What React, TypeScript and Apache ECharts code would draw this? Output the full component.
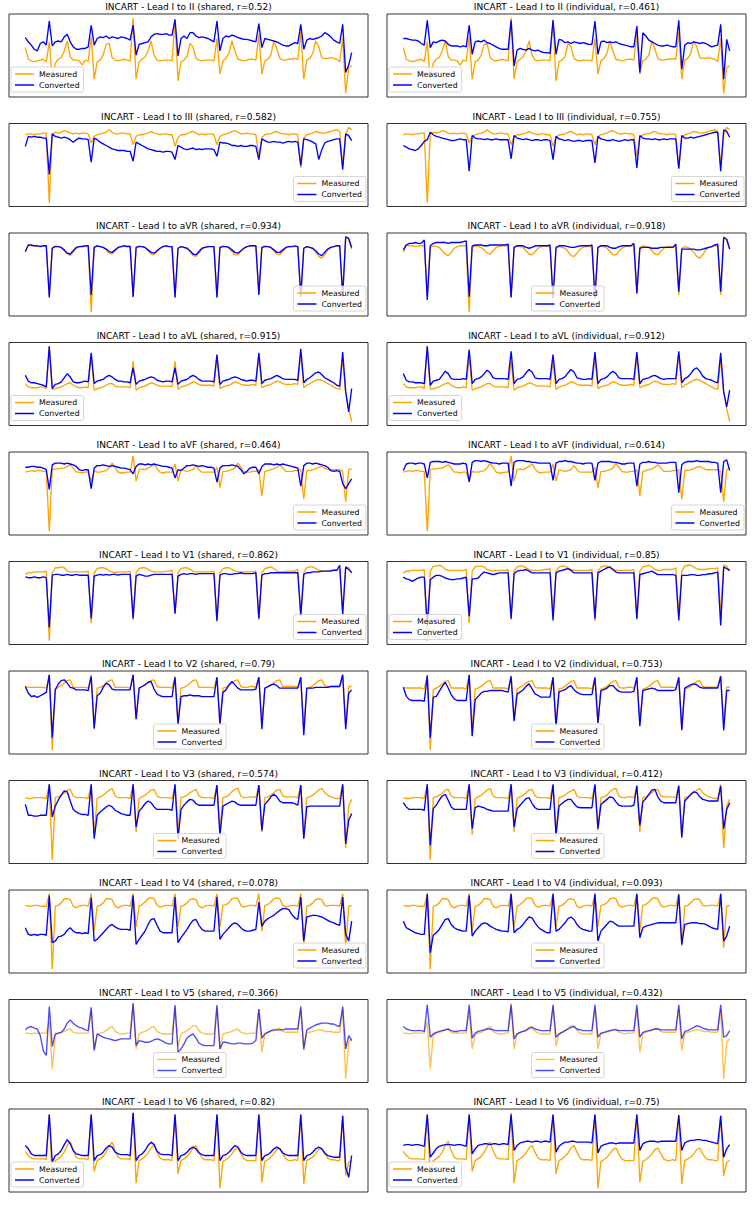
import React, { useEffect, useRef } from "react";
import * as echarts from "echarts";

// ---- labels ----
const leads = ["II", "III", "aVR", "aVL", "aVF", "V1", "V2", "V3", "V4", "V5", "V6"];
const rShared = ["0.52", "0.582", "0.934", "0.915", "0.464", "0.862", "0.79", "0.574", "0.078", "0.366", "0.82"];
const rIndividual = ["0.461", "0.755", "0.918", "0.912", "0.614", "0.85", "0.753", "0.412", "0.093", "0.432", "0.75"];
const legendShared = ["left", "right", "right", "left", "right", "right", "center", "center", "right", "center", "left"];
const legendIndividual = ["left", "right", "center", "left", "right", "left", "center", "center", "center", "center", "left"];

// ---- measured leads (same signal in both columns) ----
const mII = [59, 45, 43, 42, 43, 44, 45,
  42, 66, 21, 40, 45, 47, 55, 67, 48, 44, 44, 43, 38, 44,
  43, 72, 21, 42, 44, 50, 63, 64, 47, 44, 43, 44, 45, 44,
  43, 95, 21, 42, 45, 48, 55, 67, 50, 44, 43, 44, 44, 44,
  43, 93, 19, 42, 44, 48, 64, 60, 46, 44, 43, 44, 44, 44,
  43, 70, 27, 43, 46, 52, 67, 55, 45, 44, 43, 44, 45, 45,
  44, 75, 27, 43, 45, 50, 67, 58, 46, 44, 44, 45, 45, 46,
  45, 78, 21, 44, 46, 52, 67, 60, 47, 46, 46, 47, 46, 45,
  42, 70, 4, 35, 37];
const mIII = [86, 87, 87, 86, 87, 87, 88,
  88, 4, 87, 89, 88, 89, 91, 90, 88, 87, 88, 87, 88, 88,
  87, 76, 84, 86, 87, 88, 89, 92, 89, 87, 87, 88, 88, 87,
  87, 74, 84, 86, 86, 87, 88, 90, 88, 87, 86, 87, 87, 86,
  86, 72, 83, 86, 86, 87, 89, 90, 88, 86, 87, 86, 87, 87,
  86, 74, 84, 86, 87, 88, 90, 91, 89, 87, 87, 88, 87, 87,
  86, 60, 83, 86, 87, 87, 89, 90, 88, 87, 87, 86, 87, 87,
  86, 46, 82, 86, 87, 88, 90, 89, 88, 88, 89, 90, 91, 92,
  90, 48, 86, 95, 92];
const mAVR = [76, 85, 84, 84, 83, 84, 84,
  84, 24, 82, 84, 83, 82, 78, 74, 72, 76, 81, 83, 84, 84,
  84, 3, 82, 84, 83, 82, 79, 75, 74, 78, 82, 83, 84, 84,
  84, 21, 82, 84, 83, 82, 78, 74, 73, 77, 81, 83, 84, 83,
  83, 21, 81, 83, 82, 81, 77, 72, 71, 75, 80, 82, 83, 83,
  83, 21, 82, 84, 83, 81, 77, 73, 73, 77, 81, 83, 84, 84,
  84, 26, 82, 84, 83, 82, 78, 74, 73, 77, 81, 83, 83, 83,
  83, 24, 81, 83, 82, 80, 76, 71, 69, 73, 79, 82, 83, 84,
  84, 24, 95, 92, 80];
const mAVL = [50, 46, 45, 45, 45, 46, 46,
  44, 95, 43, 44, 45, 46, 48, 50, 51, 48, 46, 45, 45, 46,
  45, 84, 42, 44, 45, 46, 48, 50, 50, 47, 46, 46, 46, 46,
  45, 77, 42, 45, 46, 47, 49, 51, 50, 48, 47, 47, 47, 47,
  46, 77, 43, 46, 47, 48, 50, 52, 51, 49, 48, 48, 48, 48,
  47, 82, 44, 46, 47, 48, 50, 52, 51, 49, 48, 48, 48, 49,
  48, 84, 45, 47, 48, 49, 51, 53, 52, 50, 49, 49, 49, 50,
  49, 86, 45, 48, 50, 52, 54, 55, 54, 52, 50, 48, 46, 44,
  43, 80, 40, 20, 4];
const mAVF = [77, 78, 79, 78, 79, 79, 78,
  78, 5, 80, 81, 81, 82, 82, 84, 86, 82, 77, 77, 76, 77,
  77, 66, 78, 77, 77, 78, 79, 82, 88, 83, 77, 76, 76, 77,
  77, 97, 66, 80, 81, 80, 82, 84, 87, 81, 77, 76, 77, 77,
  77, 87, 66, 80, 79, 78, 79, 80, 85, 80, 77, 77, 77, 77,
  77, 83, 58, 78, 78, 79, 80, 82, 88, 83, 78, 77, 77, 78,
  78, 80, 48, 78, 79, 80, 81, 83, 86, 82, 78, 78, 78, 79,
  79, 80, 44, 79, 79, 80, 81, 83, 84, 82, 80, 80, 80, 80,
  80, 78, 41, 80, 81];
const mV1 = [84, 86, 86, 87, 87, 87, 87,
  88, 4, 86, 92, 92, 93, 92, 88, 87, 87, 87, 87, 87, 87,
  88, 25, 86, 91, 92, 92, 91, 88, 87, 86, 87, 87, 87, 87,
  88, 29, 86, 91, 92, 92, 90, 88, 87, 87, 87, 87, 88, 88,
  89, 36, 86, 91, 92, 92, 90, 88, 87, 87, 87, 87, 87, 87,
  88, 27, 86, 91, 92, 92, 90, 88, 87, 87, 87, 87, 87, 87,
  88, 29, 86, 91, 92, 93, 91, 88, 87, 87, 88, 88, 88, 88,
  90, 34, 86, 92, 93, 93, 91, 89, 88, 88, 88, 89, 89, 89,
  90, 36, 93, 92, 86];
const mV2 = [81, 80, 80, 80, 80, 80, 80,
  79, 95, 5, 78, 80, 82, 85, 88, 89, 80, 80, 80, 80, 80,
  79, 95, 30, 79, 80, 82, 85, 88, 89, 80, 80, 80, 80, 80,
  79, 95, 42, 79, 81, 83, 86, 88, 89, 81, 80, 80, 80, 80,
  79, 93, 36, 79, 80, 82, 85, 88, 89, 80, 80, 80, 80, 80,
  79, 92, 38, 79, 80, 82, 85, 88, 89, 81, 80, 80, 81, 81,
  80, 92, 40, 79, 80, 82, 85, 88, 89, 81, 81, 81, 81, 81,
  80, 92, 32, 79, 80, 82, 85, 88, 89, 82, 81, 81, 81, 81,
  81, 95, 36, 81, 81];
const mV3 = [79, 78, 78, 79, 79, 79, 79,
  78, 95, 5, 79, 80, 82, 84, 88, 89, 81, 79, 79, 79, 79,
  78, 95, 35, 78, 80, 82, 85, 88, 90, 81, 79, 79, 79, 79,
  78, 95, 38, 78, 80, 82, 85, 88, 89, 81, 79, 79, 79, 79,
  78, 94, 38, 79, 80, 82, 85, 87, 89, 81, 79, 79, 79, 79,
  78, 94, 40, 79, 80, 82, 86, 89, 90, 81, 79, 79, 80, 80,
  79, 94, 38, 79, 80, 82, 85, 88, 89, 81, 80, 80, 80, 80,
  79, 94, 31, 79, 80, 82, 85, 88, 90, 85, 82, 80, 79, 78,
  78, 95, 19, 69, 77];
const mV4 = [81, 80, 80, 81, 81, 80, 80,
  80, 95, 4, 80, 81, 84, 89, 89, 88, 80, 78, 80, 81, 81,
  80, 95, 50, 80, 81, 84, 89, 89, 88, 80, 78, 80, 81, 81,
  80, 95, 55, 80, 82, 85, 89, 90, 89, 81, 79, 80, 81, 81,
  80, 95, 55, 80, 81, 84, 88, 89, 88, 80, 78, 80, 81, 81,
  80, 95, 55, 81, 82, 84, 89, 90, 89, 81, 79, 80, 81, 81,
  80, 95, 50, 81, 82, 85, 89, 90, 89, 81, 79, 80, 81, 81,
  80, 95, 32, 80, 81, 84, 88, 89, 88, 81, 80, 81, 81, 81,
  80, 95, 30, 80, 81];
const mV5 = [61, 61, 60, 61, 61, 61, 61,
  61, 75, 18, 58, 61, 62, 63, 65, 66, 62, 61, 61, 61, 61,
  61, 88, 42, 59, 61, 62, 64, 67, 69, 63, 61, 60, 60, 61,
  61, 97, 42, 60, 62, 63, 65, 68, 69, 63, 61, 60, 60, 60,
  60, 92, 45, 60, 62, 64, 67, 70, 70, 64, 61, 60, 60, 60,
  60, 92, 42, 60, 61, 62, 63, 65, 66, 62, 61, 60, 61, 61,
  61, 90, 38, 60, 62, 63, 64, 66, 67, 63, 62, 62, 62, 62,
  62, 90, 40, 61, 62, 63, 64, 65, 65, 63, 63, 63, 62, 62,
  62, 90, 6, 50, 54];
const mV6 = [49, 44, 41, 40, 40, 40, 40,
  39, 93, 15, 38, 40, 43, 48, 56, 61, 50, 42, 40, 40, 40,
  39, 93, 25, 38, 40, 43, 48, 55, 60, 50, 42, 40, 40, 40,
  39, 95, 11, 38, 40, 43, 47, 53, 56, 48, 41, 39, 39, 39,
  38, 93, 22, 38, 40, 43, 47, 53, 56, 48, 41, 39, 39, 39,
  38, 93, 5, 37, 39, 42, 46, 51, 53, 46, 40, 38, 38, 38,
  38, 93, 12, 37, 39, 42, 46, 51, 53, 46, 40, 38, 38, 39,
  38, 93, 10, 38, 40, 42, 46, 51, 53, 46, 41, 39, 39, 38,
  38, 92, 20, 36, 38];

// ---- converted from Lead I, shared model ----
const sII = [71, 66, 62, 57, 55, 64, 66,
  62, 91, 61, 66, 67, 66, 72, 75, 66, 60, 57, 57, 58, 58,
  60, 86, 62, 70, 72, 71, 73, 70, 72, 71, 70, 72, 71, 70,
  68, 86, 50, 63, 64, 65, 66, 72, 75, 76, 75, 75, 76, 74,
  74, 93, 49, 70, 73, 70, 77, 77, 73, 71, 72, 71, 70, 68,
  66, 91, 55, 70, 73, 72, 74, 73, 71, 70, 69, 69, 68, 67,
  66, 88, 59, 70, 69, 68, 67, 66, 64, 62, 61, 61, 63, 65,
  64, 87, 57, 68, 70, 69, 70, 71, 73, 77, 75, 72, 68, 66,
  64, 87, 29, 38, 53];
const sIII = [72, 84, 83, 84, 83, 83, 82,
  82, 38, 87, 84, 83, 82, 83, 82, 80, 77, 80, 82, 81, 81,
  80, 53, 82, 80, 77, 75, 73, 71, 69, 68, 67, 67, 67, 66,
  66, 54, 77, 75, 73, 71, 69, 68, 67, 66, 66, 65, 66, 66,
  65, 56, 73, 71, 69, 68, 69, 70, 68, 69, 68, 69, 69, 69,
  68, 60, 77, 76, 76, 75, 73, 73, 72, 73, 72, 72, 73, 73,
  72, 56, 81, 79, 77, 77, 78, 77, 77, 76, 77, 78, 77, 78,
  77, 49, 81, 80, 79, 77, 75, 56, 68, 76, 78, 79, 80, 81,
  81, 44, 87, 85, 79];
const sAVR = [77, 85, 85, 84, 84, 83, 84,
  84, 21, 81, 83, 83, 82, 79, 75, 74, 78, 82, 83, 83, 84,
  84, 24, 82, 84, 83, 82, 80, 77, 76, 79, 82, 83, 84, 83,
  83, 22, 82, 83, 83, 82, 79, 76, 75, 78, 81, 83, 84, 83,
  83, 21, 81, 83, 82, 81, 78, 74, 73, 77, 81, 82, 83, 83,
  83, 21, 82, 83, 83, 82, 79, 76, 75, 78, 81, 83, 84, 84,
  84, 24, 82, 83, 83, 82, 79, 76, 76, 79, 82, 83, 83, 84,
  83, 22, 81, 83, 82, 81, 78, 74, 72, 76, 80, 82, 83, 84,
  84, 22, 95, 93, 82];
const sAVL = [60, 53, 51, 51, 50, 49, 48,
  46, 95, 44, 49, 50, 52, 57, 62, 58, 52, 51, 51, 52, 53,
  52, 87, 50, 53, 54, 55, 58, 60, 58, 55, 53, 53, 52, 52,
  51, 69, 49, 53, 54, 55, 57, 58, 57, 54, 53, 52, 53, 53,
  52, 69, 49, 53, 54, 55, 58, 60, 58, 55, 53, 53, 53, 53,
  52, 85, 49, 53, 54, 55, 57, 58, 57, 55, 54, 53, 54, 54,
  53, 87, 50, 54, 55, 56, 58, 60, 58, 56, 55, 55, 55, 55,
  54, 92, 51, 55, 57, 60, 63, 64, 61, 57, 55, 53, 51, 48,
  47, 88, 40, 16, 44];
const sAVF = [83, 83, 84, 84, 83, 83, 82,
  80, 56, 86, 88, 88, 88, 87, 88, 87, 86, 84, 80, 79, 80,
  80, 57, 82, 85, 85, 86, 85, 84, 85, 84, 83, 82, 82, 81,
  80, 75, 84, 87, 87, 86, 87, 86, 87, 86, 85, 84, 84, 83,
  82, 70, 80, 79, 82, 85, 85, 86, 85, 84, 85, 84, 83, 83,
  82, 65, 82, 85, 85, 85, 86, 85, 84, 80, 75, 78, 82, 83,
  83, 75, 84, 87, 87, 87, 86, 87, 86, 87, 86, 85, 84, 83,
  82, 60, 85, 88, 88, 87, 88, 87, 86, 85, 83, 79, 78, 79,
  78, 63, 57, 63, 69];
const sV1 = [81, 80, 80, 81, 80, 80, 81,
  80, 20, 83, 84, 84, 83, 83, 84, 83, 83, 84, 83, 83, 83,
  83, 31, 82, 83, 84, 83, 84, 83, 84, 84, 83, 84, 84, 84,
  84, 31, 82, 84, 83, 82, 82, 83, 84, 84, 84, 84, 84, 84,
  84, 37, 82, 84, 85, 84, 85, 85, 84, 85, 85, 85, 85, 85,
  85, 28, 83, 85, 85, 84, 84, 85, 85, 86, 85, 85, 85, 85,
  86, 31, 83, 85, 85, 86, 86, 86, 86, 86, 86, 86, 86, 86,
  86, 34, 84, 86, 86, 87, 87, 87, 88, 88, 88, 88, 89, 89,
  95, 36, 93, 90, 86];
const sV2 = [81, 73, 69, 70, 68, 70, 72,
  74, 95, 20, 77, 84, 88, 89, 85, 80, 79, 77, 77, 77, 77,
  76, 93, 31, 70, 73, 80, 85, 83, 78, 77, 77, 77, 77, 77,
  77, 95, 42, 79, 81, 83, 86, 87, 78, 72, 70, 69, 69, 69,
  69, 92, 36, 69, 70, 70, 71, 70, 70, 70, 69, 69, 69, 69,
  69, 92, 36, 74, 77, 83, 87, 83, 79, 77, 77, 77, 77, 77,
  78, 92, 30, 79, 81, 83, 84, 82, 79, 79, 79, 79, 79, 79,
  79, 92, 23, 79, 79, 79, 80, 80, 80, 80, 80, 81, 81, 81,
  81, 95, 30, 73, 77];
const sV3 = [71, 58, 58, 57, 57, 58, 58,
  58, 95, 56, 69, 76, 82, 87, 86, 75, 65, 62, 60, 59, 59,
  58, 95, 30, 58, 62, 65, 68, 70, 68, 64, 62, 60, 59, 58,
  58, 95, 44, 63, 67, 72, 75, 73, 68, 65, 65, 65, 65, 65,
  64, 95, 30, 65, 70, 74, 77, 76, 72, 70, 70, 70, 70, 70,
  70, 94, 34, 69, 71, 73, 75, 74, 71, 70, 70, 70, 70, 70,
  70, 94, 40, 71, 75, 80, 83, 80, 75, 73, 73, 73, 73, 72,
  70, 94, 30, 68, 69, 69, 69, 69, 69, 69, 69, 69, 69, 69,
  69, 95, 24, 52, 60];
const sV4 = [54, 46, 45, 46, 45, 46, 46,
  45, 93, 36, 38, 43, 44, 46, 51, 54, 50, 48, 48, 47, 48,
  47, 90, 38, 40, 44, 48, 52, 56, 58, 55, 53, 52, 52, 52,
  51, 93, 34, 40, 45, 50, 58, 64, 65, 57, 50, 48, 48, 48,
  48, 91, 36, 42, 47, 52, 58, 63, 64, 57, 52, 50, 50, 50,
  50, 91, 40, 46, 50, 54, 58, 60, 58, 54, 51, 50, 50, 51,
  52, 85, 56, 62, 65, 67, 69, 72, 75, 77, 77, 76, 70, 66,
  64, 91, 38, 67, 68, 69, 69, 68, 67, 65, 63, 61, 60, 58,
  57, 91, 46, 38, 62];
const sV5 = [65, 68, 69, 67, 66, 58, 40,
  34, 93, 45, 60, 61, 62, 66, 73, 77, 73, 70, 68, 67, 65,
  64, 92, 40, 60, 58, 56, 55, 54, 53, 52, 53, 54, 54, 54,
  54, 97, 46, 52, 51, 50, 50, 51, 53, 54, 53, 51, 49, 48,
  48, 95, 38, 42, 48, 55, 58, 60, 55, 49, 47, 46, 46, 46,
  46, 95, 42, 50, 50, 49, 48, 48, 49, 49, 48, 48, 48, 49,
  52, 90, 55, 60, 62, 64, 65, 65, 65, 65, 66, 66, 66, 66,
  66, 93, 42, 65, 67, 69, 71, 72, 73, 73, 73, 72, 72, 70,
  69, 93, 42, 58, 52];
const sV6 = [56, 52, 46, 44, 44, 44, 44,
  44, 93, 36, 44, 46, 50, 57, 63, 58, 50, 46, 45, 44, 44,
  44, 93, 38, 44, 45, 48, 53, 56, 54, 48, 46, 45, 45, 45,
  44, 95, 38, 44, 46, 50, 56, 60, 57, 49, 46, 45, 45, 45,
  44, 93, 38, 44, 45, 48, 52, 54, 52, 47, 45, 44, 44, 44,
  44, 93, 38, 44, 45, 48, 52, 56, 54, 48, 45, 44, 44, 44,
  44, 93, 38, 44, 45, 48, 52, 54, 52, 47, 45, 44, 44, 44,
  44, 93, 38, 44, 45, 48, 52, 54, 52, 47, 44, 43, 42, 42,
  42, 91, 30, 18, 44];

// ---- converted from Lead I, individual models ----
const iII = [70, 70, 69, 68, 68, 67, 64,
  62, 92, 59, 66, 65, 67, 68, 67, 63, 61, 61, 61, 60, 61,
  60, 86, 51, 66, 67, 66, 68, 65, 64, 62, 60, 58, 57, 57,
  57, 92, 37, 56, 58, 57, 56, 58, 56, 55, 56, 54, 53, 53,
  52, 92, 51, 69, 68, 65, 66, 64, 66, 65, 64, 65, 64, 63,
  63, 91, 51, 66, 67, 65, 66, 65, 66, 64, 63, 62, 61, 60,
  60, 85, 29, 77, 73, 68, 66, 64, 62, 61, 61, 62, 61, 60,
  60, 92, 33, 62, 65, 64, 66, 65, 64, 65, 64, 62, 60, 61,
  62, 87, 21, 69, 55];
const iIII = [73, 71, 69, 68, 67, 69, 73,
  78, 80, 89, 86, 84, 83, 82, 81, 80, 79, 79, 80, 81, 80,
  80, 42, 85, 82, 81, 81, 80, 81, 80, 80, 81, 80, 80, 80,
  80, 57, 85, 82, 81, 80, 81, 80, 79, 80, 80, 79, 80, 80,
  79, 56, 84, 81, 80, 79, 80, 79, 78, 79, 79, 78, 79, 79,
  79, 52, 84, 81, 80, 79, 79, 80, 79, 78, 79, 80, 79, 80,
  80, 46, 85, 82, 81, 81, 80, 81, 80, 80, 81, 80, 81, 81,
  81, 45, 85, 82, 82, 83, 82, 83, 84, 85, 86, 87, 88, 89,
  89, 42, 92, 90, 83];
const iAVR = [79, 85, 87, 87, 88, 87, 87,
  91, 18, 84, 87, 88, 88, 88, 88, 87, 88, 88, 88, 88, 89,
  90, 22, 84, 85, 85, 85, 84, 84, 85, 85, 85, 85, 85, 85,
  86, 21, 82, 84, 84, 84, 82, 81, 82, 84, 84, 84, 84, 84,
  85, 20, 82, 84, 84, 84, 83, 82, 82, 83, 84, 84, 84, 84,
  85, 20, 82, 84, 84, 84, 82, 81, 81, 83, 84, 84, 84, 84,
  87, 26, 81, 82, 82, 82, 81, 81, 81, 82, 82, 82, 82, 82,
  86, 28, 80, 80, 80, 80, 80, 79, 79, 80, 81, 82, 83, 85,
  86, 28, 94, 92, 80];
const iAVL = [62, 54, 52, 52, 51, 51, 51,
  50, 95, 48, 53, 54, 55, 60, 65, 62, 56, 55, 55, 55, 56,
  55, 91, 50, 55, 56, 58, 62, 66, 63, 57, 56, 56, 56, 56,
  55, 89, 50, 55, 56, 58, 63, 67, 64, 57, 56, 56, 56, 56,
  55, 85, 50, 55, 56, 58, 63, 67, 64, 57, 56, 55, 55, 56,
  55, 88, 50, 55, 56, 58, 62, 65, 62, 57, 56, 56, 56, 56,
  55, 88, 50, 55, 56, 57, 59, 60, 58, 56, 55, 56, 56, 56,
  56, 89, 51, 56, 58, 62, 67, 69, 65, 59, 56, 55, 54, 52,
  51, 87, 40, 22, 42];
const iAVF = [79, 87, 88, 88, 87, 88, 88,
  87, 70, 89, 90, 90, 90, 89, 90, 89, 88, 87, 87, 87, 88,
  87, 65, 89, 91, 91, 90, 91, 90, 89, 88, 88, 87, 88, 88,
  88, 60, 89, 91, 91, 91, 90, 90, 89, 89, 88, 88, 88, 88,
  88, 67, 88, 90, 90, 91, 90, 90, 89, 88, 88, 87, 88, 88,
  88, 67, 88, 90, 90, 90, 90, 89, 89, 88, 87, 87, 88, 88,
  88, 60, 87, 89, 89, 90, 89, 89, 88, 88, 88, 88, 89, 89,
  89, 52, 86, 89, 90, 90, 90, 91, 90, 90, 90, 90, 89, 89,
  88, 52, 90, 92, 79];
const iV1 = [79, 77, 76, 74, 76, 78, 79,
  79, 22, 76, 79, 81, 81, 80, 78, 77, 76, 76, 77, 77, 78,
  79, 33, 77, 77, 78, 82, 85, 84, 83, 82, 83, 84, 84, 84,
  84, 30, 83, 86, 87, 87, 88, 86, 84, 84, 84, 84, 84, 84,
  84, 28, 84, 86, 87, 88, 89, 87, 84, 84, 84, 84, 84, 84,
  84, 30, 84, 86, 88, 90, 91, 88, 85, 84, 84, 84, 84, 84,
  84, 30, 82, 83, 84, 85, 86, 84, 82, 82, 82, 82, 82, 82,
  81, 28, 81, 81, 81, 82, 82, 81, 81, 82, 82, 83, 83, 84,
  85, 22, 91, 89, 87];
const iV2 = [81, 70, 66, 65, 65, 65, 65,
  64, 95, 20, 69, 70, 76, 82, 87, 80, 72, 67, 65, 65, 65,
  65, 96, 22, 66, 70, 74, 76, 76, 77, 77, 77, 77, 77, 76,
  75, 94, 40, 73, 75, 78, 82, 85, 79, 73, 71, 69, 69, 69,
  69, 93, 34, 75, 77, 78, 81, 83, 78, 75, 73, 72, 72, 72,
  72, 93, 38, 77, 78, 80, 83, 83, 79, 76, 75, 75, 75, 75,
  76, 93, 34, 77, 78, 79, 80, 79, 77, 77, 77, 77, 77, 77,
  78, 93, 29, 80, 82, 84, 85, 84, 81, 80, 80, 80, 80, 80,
  80, 94, 29, 77, 77];
const iV3 = [73, 68, 65, 65, 65, 65, 65,
  64, 95, 22, 66, 70, 76, 81, 83, 76, 68, 65, 65, 65, 65,
  65, 95, 42, 67, 69, 68, 67, 65, 64, 63, 63, 63, 63, 63,
  63, 95, 44, 66, 70, 74, 78, 79, 72, 67, 65, 65, 65, 65,
  65, 95, 34, 69, 72, 75, 77, 77, 72, 68, 67, 67, 67, 67,
  67, 95, 42, 71, 74, 77, 80, 79, 74, 70, 69, 69, 69, 69,
  70, 93, 46, 74, 78, 83, 88, 89, 80, 75, 73, 73, 73, 73,
  73, 93, 32, 75, 79, 83, 86, 85, 80, 77, 76, 75, 75, 75,
  75, 93, 42, 65, 73];
const iV4 = [62, 54, 52, 50, 48, 47, 46,
  46, 95, 24, 45, 48, 52, 58, 64, 65, 58, 54, 52, 51, 50,
  50, 93, 44, 50, 54, 58, 60, 59, 56, 54, 52, 51, 50, 50,
  49, 95, 48, 52, 54, 58, 63, 67, 66, 60, 55, 52, 50, 48,
  48, 95, 50, 52, 56, 60, 65, 67, 64, 58, 54, 52, 51, 50,
  50, 95, 38, 50, 54, 58, 62, 61, 58, 56, 56, 56, 56, 56,
  56, 95, 42, 54, 56, 57, 58, 59, 60, 60, 60, 60, 60, 60,
  60, 94, 34, 58, 59, 60, 60, 60, 59, 59, 58, 56, 54, 53,
  52, 95, 38, 44, 56];
const iV5 = [69, 66, 65, 64, 64, 64, 64,
  63, 95, 56, 60, 62, 63, 64, 65, 66, 64, 63, 63, 64, 64,
  64, 95, 55, 61, 63, 64, 65, 66, 66, 65, 64, 64, 64, 64,
  64, 95, 54, 60, 62, 63, 64, 67, 68, 66, 65, 64, 64, 64,
  64, 95, 56, 60, 62, 64, 66, 68, 69, 66, 65, 64, 64, 64,
  64, 95, 56, 61, 62, 63, 64, 65, 65, 64, 64, 64, 64, 64,
  64, 95, 56, 62, 63, 64, 65, 66, 66, 65, 65, 65, 65, 65,
  65, 95, 54, 63, 64, 66, 68, 70, 69, 67, 66, 65, 65, 65,
  65, 95, 56, 58, 64];
const iV6 = [56, 57, 57, 56, 57, 57, 56,
  55, 93, 42, 47, 52, 55, 56, 57, 57, 57, 56, 57, 57, 56,
  55, 93, 46, 52, 56, 57, 58, 58, 57, 58, 58, 57, 58, 58,
  57, 93, 50, 56, 59, 60, 61, 61, 60, 61, 61, 60, 61, 61,
  60, 93, 48, 55, 58, 60, 60, 61, 61, 60, 60, 60, 60, 60,
  59, 93, 47, 55, 57, 58, 59, 59, 58, 59, 59, 59, 59, 59,
  59, 93, 50, 58, 60, 61, 61, 61, 60, 61, 61, 61, 61, 61,
  61, 92, 50, 59, 61, 62, 62, 63, 63, 62, 62, 61, 60, 59,
  58, 91, 42, 52, 57];

const measured = [mII, mIII, mAVR, mAVL, mAVF, mV1, mV2, mV3, mV4, mV5, mV6];
const convertedShared = [sII, sIII, sAVR, sAVL, sAVF, sV1, sV2, sV3, sV4, sV5, sV6];
const convertedIndividual = [iII, iIII, iAVR, iAVL, iAVF, iV1, iV2, iV3, iV4, iV5, iV6];

// ---- layout ----
const W = 756;
const H = 1205;
const PANEL_W = 359;
const PANEL_H = 83;
const COL_X = [9, 387];
const ROW_Y0 = 14;
const ROW_STEP = 109.5;
const ORANGE = "#FFA500";
const BLUE = "#0000FF";
const FONT = '"DejaVu Sans", "Liberation Sans", sans-serif';

function buildOption() {
  const grid: any[] = [];
  const xAxis: any[] = [];
  const yAxis: any[] = [];
  const series: any[] = [];
  const legend: any[] = [];
  const graphic: any[] = [];

  leads.forEach((lead, r) => {
    [0, 1].forEach((c) => {
      const idx = r * 2 + c;
      const left = COL_X[c];
      const top = ROW_Y0 + r * ROW_STEP;
      const meas = measured[r];
      const conv = c === 0 ? convertedShared[r] : convertedIndividual[r];
      const n = Math.max(meas.length, conv.length);
      const all = meas.concat(conv);
      const lo = Math.min(...all);
      const hi = Math.max(...all);
      const pad = (hi - lo) * 0.05;
      const op = lead === "V5" ? 0.7 : 1;

      grid.push({
        left, top, width: PANEL_W, height: PANEL_H,
        show: true, borderColor: "#000", borderWidth: 0.8, backgroundColor: "transparent",
      });
      xAxis.push({
        type: "value", gridIndex: idx, show: false,
        min: -0.05 * (n - 1), max: (n - 1) * 1.05,
        splitLine: { show: false },
      });
      yAxis.push({
        type: "value", gridIndex: idx, show: false,
        min: lo - pad, max: hi + pad,
        splitLine: { show: false },
      });
      series.push({
        type: "line", name: "Measured", xAxisIndex: idx, yAxisIndex: idx,
        data: meas.map((v, i) => [i, v]),
        showSymbol: false, symbol: "none", silent: true, z: 2,
        lineStyle: { color: ORANGE, width: 1.35, opacity: op },
        itemStyle: { color: ORANGE },
      });
      series.push({
        type: "line", name: "Converted", xAxisIndex: idx, yAxisIndex: idx,
        data: conv.map((v, i) => [i, v]),
        showSymbol: false, symbol: "none", silent: true, z: 3,
        lineStyle: { color: BLUE, width: 1.35, opacity: op },
        itemStyle: { color: BLUE },
      });

      const pos = c === 0 ? legendShared[r] : legendIndividual[r];
      const lg: any = {
        orient: "vertical",
        top: top + PANEL_H - 3 - 27,
        icon: "rect",
        itemWidth: 19,
        itemHeight: 1.5,
        itemGap: 3,
        padding: [3, 4, 3, 4],
        selectedMode: false,
        borderColor: "#cccccc",
        borderWidth: 0.8,
        borderRadius: 2,
        backgroundColor: "rgba(255,255,255,0.8)",
        textStyle: { fontSize: 7.8, fontFamily: FONT, color: "#000" },
        data: [
          { name: "Measured", itemStyle: { color: ORANGE, opacity: op } },
          { name: "Converted", itemStyle: { color: BLUE, opacity: op } },
        ],
        z: 10,
      };
      if (pos === "left") lg.left = left + 2;
      else if (pos === "right") lg.right = W - (left + PANEL_W) + 2;
      else lg.left = left + PANEL_W / 2 - 35;
      legend.push(lg);

      const title = `INCART - Lead I to ${lead} (${c === 0 ? "shared" : "individual"}, r=${c === 0 ? rShared[r] : rIndividual[r]})`;
      graphic.push({
        type: "text",
        x: left + PANEL_W / 2,
        y: top - 7,
        silent: true,
        style: {
          text: title,
          fill: "#000",
          font: `9px ${FONT}`,
          textAlign: "center",
          textVerticalAlign: "middle",
          align: "center",
          verticalAlign: "middle",
        },
      });
    });
  });

  return {
    animation: false,
    backgroundColor: "#fff",
    grid, xAxis, yAxis, series, legend, graphic,
  };
}

export default function App() {
  const ref = useRef<HTMLDivElement>(null);
  useEffect(() => {
    if (!ref.current) return;
    const chart = echarts.init(ref.current, undefined, { renderer: "svg" });
    chart.setOption(buildOption() as any);
    return () => chart.dispose();
  }, []);
  return (
    <div
      ref={ref}
      style={{ position: "absolute", left: 0, top: 0, width: W, height: H, background: "#fff" }}
    />
  );
}
